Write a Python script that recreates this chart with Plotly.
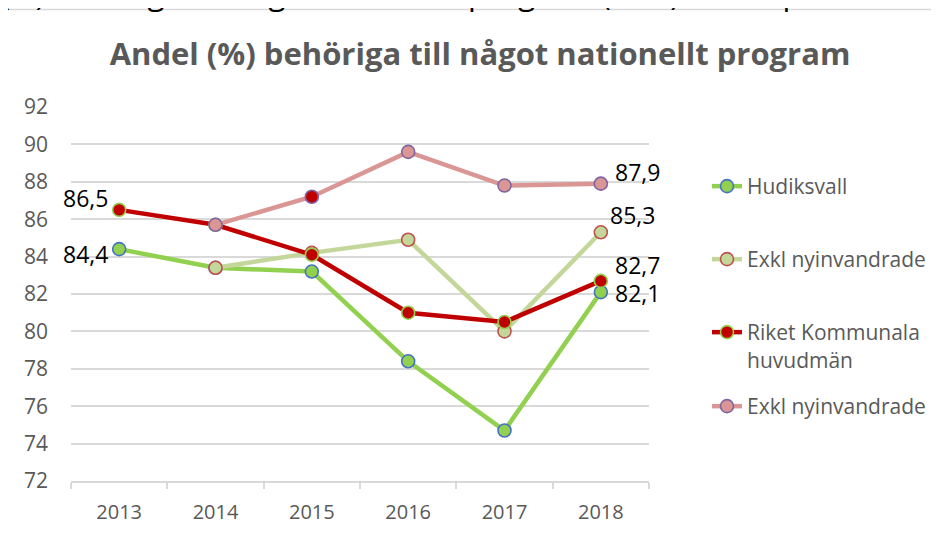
import plotly.graph_objects as go

years = ["2013", "2014", "2015", "2016", "2017", "2018"]
hudiksvall = [84.4, 83.4, 83.2, 78.4, 74.7, 82.1]
hud_exkl = [None, 83.4, 84.2, 84.9, 80.0, 85.3]
riket = [86.5, 85.7, 84.1, 81.0, 80.5, 82.7]
riket_exkl = [None, 85.7, 87.2, 89.6, 87.8, 87.9]
y_ticks = [72, 74, 76, 78, 80, 82, 84, 86, 88, 90, 92]

names = ["Hudiksvall", "Exkl nyinvandrade", "Riket Kommunala<br>huvudmän", "Exkl nyinvandrade"]
line_colors = ["#92D050", "#C4D79B", "#C00000", "#DA9694"]
edge_colors = ["#4472C4", "#C0504D", "#92D050", "#8064A2"]
series = [hudiksvall, hud_exkl, riket, riket_exkl]

FONT = "Open Sans"
GRAY = "#595959"
OFF = 8  # page offset of the plot div inside the browser

# plot area in screen pixels
PL, PR, PT, PB = 71, 649, 107, 481
PW, PH = PR - PL, PB - PT

def px(x):
    return (x - PL) / PW

def py(y):
    return (PB - y) / PH

fig = go.Figure()
legend_tops = [166, 239, 312, 386]
legend_ids = ["legend", "legend2", "legend3", "legend4"]
for i, (vals, nm, lc, ec) in enumerate(zip(series, names, line_colors, edge_colors)):
    fills = [lc] * len(vals)
    if i == 3:
        fills[2] = "#C00000"  # marker shown with dark red fill in reference
    fig.add_trace(go.Scatter(
        x=years, y=vals, name=nm, mode="lines+markers",
        line=dict(color=lc, width=4.5),
        marker=dict(size=13, color=fills, line=dict(color=ec, width=1.6)),
        legend=legend_ids[i], connectgaps=False,
    ))

def fmt(v):
    return f"{v:.1f}".replace(".", ",")

# data labels: (category index, value, anchor, xshift, yshift)
labels = [
    (0, riket[0], "right", -9, 12),
    (0, hudiksvall[0], "right", -9, -5),
    (5, riket_exkl[5], "left", 12, 12),
    (5, hud_exkl[5], "left", 7, 17),
    (5, riket[5], "left", 12, 16),
    (5, hudiksvall[5], "left", 12, -1),
]
for x, y, xa, xs, ys in labels:
    fig.add_annotation(x=x, y=y, text=fmt(y), showarrow=False, xanchor=xa,
                       yanchor="middle", xshift=xs, yshift=ys,
                       font=dict(family=FONT, size=23, color="black"))

# cut-off document text at very top
fig.add_annotation(xref="paper", yref="paper", x=px(-1), y=py(16.5),
                   xanchor="left", yanchor="bottom", showarrow=False,
                   text="(%) behöriga till något nationellt program (åk 9) under perioden 2013–2018",
                   font=dict(family=FONT, size=31, color="black"))

# chart frame
fig.add_shape(type="rect", xref="paper", yref="paper",
              x0=px(7), x1=1.8, y0=-0.5, y1=py(9.5),
              line=dict(color="#D9D9D9", width=1.5), fillcolor="rgba(0,0,0,0)", layer="below")

legend_common = dict(font=dict(family=FONT, size=21, color=GRAY), valign="top",
                     bgcolor="rgba(0,0,0,0)", xanchor="left", yanchor="top",
                     x=px(707))
layout_legends = {lid: dict(legend_common, y=py(t)) for lid, t in zip(legend_ids, legend_tops)}

fig.update_layout(
    width=939, height=537,
    margin=dict(l=PL - OFF, r=939 - PR + OFF, t=PT - OFF, b=537 - PB + OFF),
    paper_bgcolor="white", plot_bgcolor="white",
    font=dict(family=FONT, color=GRAY),
    title=dict(text="<b>Andel (%) behöriga till något nationellt program</b>",
               x=(480 - OFF) / 939, xanchor="center", y=1 - (54 - OFF) / 537, yanchor="middle",
               font=dict(family=FONT, size=31, color=GRAY)),
    showlegend=True,
    xaxis=dict(type="category", range=[-0.5, 5.5], showgrid=False, automargin=False,
               showline=True, linecolor="#D9D9D9", linewidth=1.5,
               ticks="outside", ticklen=6, tickcolor="#D9D9D9", tickwidth=1.5,
               tickson="boundaries", ticklabelstandoff=12,
               tickfont=dict(family=FONT, size=20, color=GRAY)),
    yaxis=dict(range=[72, 92], tickvals=y_ticks, showgrid=True, automargin=False,
               gridcolor="#D9D9D9", gridwidth=1.5, zeroline=False, showline=False,
               ticklabelstandoff=22,
               tickfont=dict(family=FONT, size=21, color=GRAY)),
    **layout_legends,
)

fig.write_html("out.html")
